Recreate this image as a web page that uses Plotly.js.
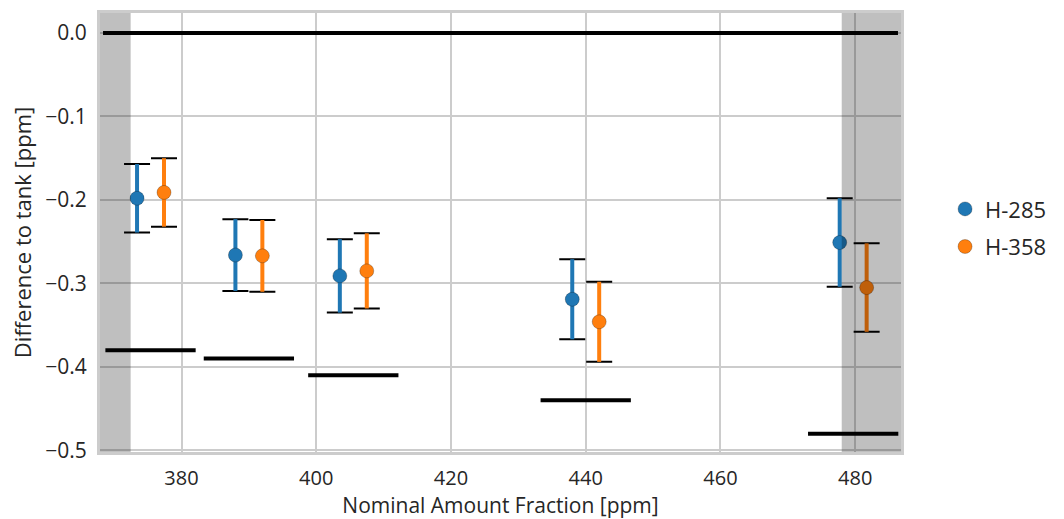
<!DOCTYPE html>
<html>
<head>
<meta charset="utf-8">
<script src="https://cdn.plot.ly/plotly-3.0.1.min.js"></script>
<style>html,body{margin:0;padding:0;background:#fff;}#chart{width:1064px;height:519px;}</style>
</head>
<body>
<div id="chart"></div>
<script>
// ---- data ----
const nominal = [375.4, 390.0, 405.5, 440.0, 479.7];
const dodge = 2.0;             // horizontal offset of each cylinder's marker from nominal
const refHalfWidth = 6.7;      // half width of reference segments (ppm)
const refValues = [-0.38, -0.39, -0.41, -0.44, -0.48];
const baseline = 0.0;

const seriesNames = ["H-285", "H-358"];
const h285Values = [-0.198, -0.266, -0.291, -0.319, -0.251];
const h285Errors = [0.041, 0.043, 0.044, 0.048, 0.053];
const h358Values = [-0.191, -0.267, -0.285, -0.346, -0.305];
const h358Errors = [0.041, 0.043, 0.045, 0.048, 0.053];

const xTicks = [380, 400, 420, 440, 460, 480];
const yTicks = [0.0, -0.1, -0.2, -0.3, -0.4, -0.5];
const shadeLeft = [367.9, 372.45];
const shadeRight = [478.0, 486.8];

const xRange = [367.9, 486.8];
const yRange = [-0.502, 0.024];

const colors = ["#1f77b4", "#ff7f0e"];

// ---- traces ----
const traces = [];
// baseline at zero
traces.push({
  type: "scatter", mode: "lines", x: [xRange[0] + 0.45, xRange[1] - 0.45], y: [baseline, baseline],
  showlegend: false, hoverinfo: "skip", line: {color: "#000000", width: 4}
});
// reference segments
const refX = [], refY = [];
nominal.forEach((n, i) => {
  refX.push(n - refHalfWidth, n + refHalfWidth, null);
  refY.push(refValues[i], refValues[i], null);
});
traces.push({
  type: "scatter", mode: "lines", x: refX, y: refY, showlegend: false, hoverinfo: "skip",
  line: {color: "#000000", width: 4}
});

function addSeries(name, vals, errs, offset, color, grp) {
  const xs = nominal.map(v => v + offset);
  // black caps + thin stem
  traces.push({
    type: "scatter", mode: "markers", x: xs, y: vals, showlegend: false, hoverinfo: "skip",
    legendgroup: grp,
    marker: {size: 1, color: "rgba(0,0,0,0)"},
    error_y: {type: "data", array: errs, visible: true, color: "#000000", thickness: 2, width: 13}
  });
  // colored thick stem + marker
  traces.push({
    type: "scatter", mode: "markers", name: name, x: xs, y: vals, legendgroup: grp,
    marker: {size: 14, color: color, line: {width: 1, color: "rgba(0,0,0,0.25)"}},
    error_y: {type: "data", array: errs, visible: true, color: color, thickness: 4, width: 0}
  });
}
addSeries(seriesNames[0], h285Values, h285Errors, -dodge, colors[0], "a");
addSeries(seriesNames[1], h358Values, h358Errors, dodge, colors[1], "b");

const fam = "Open Sans, Noto Sans, sans-serif";
const txt = "#262626";

const layout = {
  width: 1064, height: 519,
  margin: {l: 100, r: 163, t: 13, b: 67},
  paper_bgcolor: "#ffffff", plot_bgcolor: "#ffffff",
  font: {size: 21, family: fam, color: txt},
  showlegend: true,
  legend: {x: 1.055, y: 0.51, xanchor: "left", yanchor: "middle", font: {size: 22, family: fam, color: txt},
           bgcolor: "rgba(0,0,0,0)", itemwidth: 30, tracegroupgap: 6},
  xaxis: {
    range: xRange, tickvals: xTicks, ticktext: xTicks.map(String),
    showgrid: true, gridcolor: "#cccccc", gridwidth: 2,
    zeroline: false, showline: true, mirror: true, linecolor: "#cccccc", linewidth: 3,
    ticks: "outside", ticklen: 6, tickcolor: "rgba(0,0,0,0)",
    tickfont: {size: 20, family: fam, color: txt},
    title: {text: "Nominal Amount Fraction [ppm]", font: {size: 21, family: fam, color: txt}, standoff: 8}
  },
  yaxis: {
    range: yRange, tickvals: yTicks, tickformat: ".1f",
    showgrid: true, gridcolor: "#cccccc", gridwidth: 2,
    zeroline: false, showline: true, mirror: true, linecolor: "#cccccc", linewidth: 3,
    ticks: "outside", ticklen: 6, tickcolor: "rgba(0,0,0,0)",
    tickfont: {size: 21, family: fam, color: txt},
    title: {text: "Difference to tank [ppm]", font: {size: 22, family: fam, color: txt}, standoff: 8}
  },
  shapes: [
    {type: "rect", xref: "x", yref: "paper", x0: shadeLeft[0], x1: shadeLeft[1], y0: 0, y1: 1, fillcolor: "rgba(0,0,0,0.25)", line: {width: 0}, layer: "above"},
    {type: "rect", xref: "x", yref: "paper", x0: shadeRight[0], x1: shadeRight[1], y0: 0, y1: 1, fillcolor: "rgba(0,0,0,0.25)", line: {width: 0}, layer: "above"}
  ]
};

Plotly.newPlot("chart", traces, layout, {displayModeBar: false, staticPlot: true});
</script>
</body>
</html>
